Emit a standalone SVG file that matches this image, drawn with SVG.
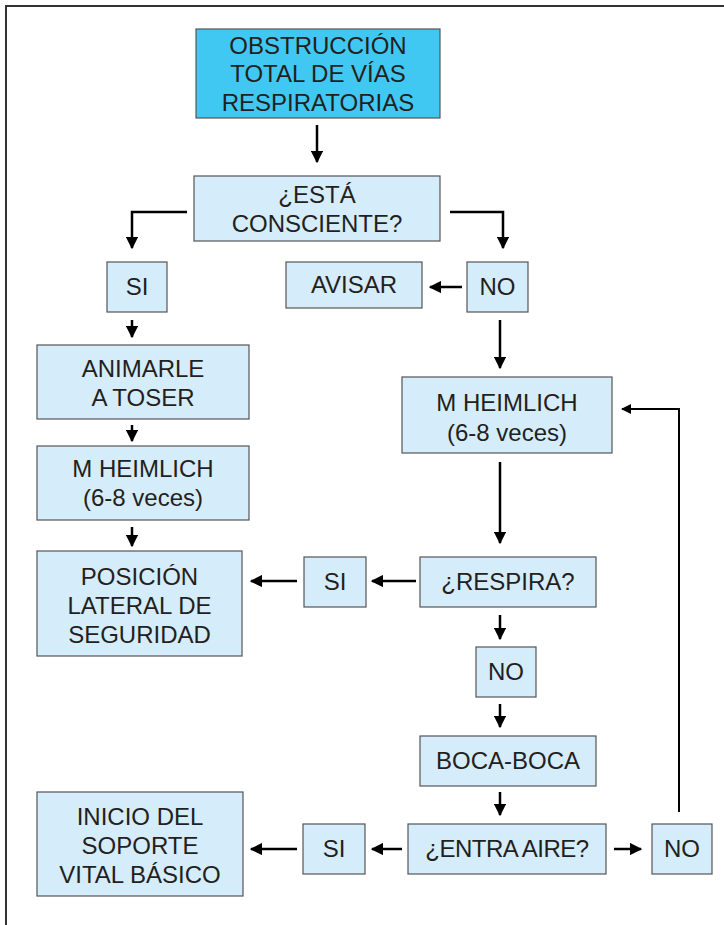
<svg xmlns="http://www.w3.org/2000/svg" width="724" height="925" viewBox="0 0 724 925">
  <style>
    .box { fill: #d5ecfa; stroke: #555; stroke-width: 1.2; }
    .main { fill: #40c8f2; stroke: #555; stroke-width: 1.2; }
    .lbl { font-family: "Liberation Sans", Arial, sans-serif; font-size: 24px; fill: #231f20; text-anchor: middle; }
    .conn { fill: none; stroke: #000; stroke-width: 2.5; marker-end: url(#ah); }
    .loop { fill: none; stroke: #000; stroke-width: 2; marker-end: url(#ah); }
  </style>
  <defs>
    <marker id="ah" viewBox="0 0 10 10" refX="9" refY="5" markerWidth="5" markerHeight="5" orient="auto" markerUnits="strokeWidth">
      <path d="M0,0 L10,5 L0,10 z" fill="#000"/>
    </marker>
  </defs>
  <rect width="724" height="925" fill="#fff"/>
  <!-- page frame -->
  <path d="M6,925 V6 H724" fill="none" stroke="#333" stroke-width="2"/>

  <g id="connectors">
    <path class="conn" d="M317,125 V162"/>
    <path class="conn" d="M187,212 H132 V248"/>
    <path class="conn" d="M450,212 H503 V248"/>
    <path class="conn" d="M462,287 H430"/>
    <path class="conn" d="M132,320 V337"/>
    <path class="conn" d="M132,425 V441"/>
    <path class="conn" d="M132,527 V546"/>
    <path class="conn" d="M500,320 V368"/>
    <path class="conn" d="M500,462 V543"/>
    <path class="conn" d="M416,581 H372"/>
    <path class="conn" d="M297,581 H251"/>
    <path class="conn" d="M500,615 V639"/>
    <path class="conn" d="M500,704 V727"/>
    <path class="conn" d="M500,792 V815"/>
    <path class="conn" d="M402,849 H372"/>
    <path class="conn" d="M297,849 H251"/>
    <path class="conn" d="M614,849 H641"/>
    <path class="loop" d="M679,812 V409 H622"/>
  </g>

  <g id="obstruccion">
    <rect class="main" x="196" y="29" width="244" height="89"/>
    <text class="lbl" x="318" y="54">OBSTRUCCIÓN</text>
    <text class="lbl" x="318" y="82">TOTAL DE VÍAS</text>
    <text class="lbl" x="318" y="111">RESPIRATORIAS</text>
  </g>
  <g id="consciente">
    <rect class="box" x="194" y="176" width="246" height="65"/>
    <text class="lbl" x="317" y="203">¿ESTÁ</text>
    <text class="lbl" x="317" y="232">CONSCIENTE?</text>
  </g>
  <g id="si1">
    <rect class="box" x="107" y="262" width="60" height="50"/>
    <text class="lbl" x="137" y="295">SI</text>
  </g>
  <g id="avisar">
    <rect class="box" x="286" y="262" width="136" height="46"/>
    <text class="lbl" x="354" y="293">AVISAR</text>
  </g>
  <g id="no1">
    <rect class="box" x="467" y="262" width="61" height="50"/>
    <text class="lbl" x="497.5" y="295">NO</text>
  </g>
  <g id="animarle">
    <rect class="box" x="37" y="345" width="212" height="74"/>
    <text class="lbl" x="143" y="377">ANIMARLE</text>
    <text class="lbl" x="143" y="406">A TOSER</text>
  </g>
  <g id="heimlich1">
    <rect class="box" x="37" y="446" width="212" height="74"/>
    <text class="lbl" x="143" y="477">M HEIMLICH</text>
    <text class="lbl" x="143" y="506">(6-8 veces)</text>
  </g>
  <g id="posicion">
    <rect class="box" x="37" y="551" width="205" height="105"/>
    <text class="lbl" x="139.5" y="585">POSICIÓN</text>
    <text class="lbl" x="139.5" y="614">LATERAL DE</text>
    <text class="lbl" x="139.5" y="643">SEGURIDAD</text>
  </g>
  <g id="heimlich2">
    <rect class="box" x="402" y="377" width="210" height="76"/>
    <text class="lbl" x="507" y="411">M HEIMLICH</text>
    <text class="lbl" x="507" y="441">(6-8 veces)</text>
  </g>
  <g id="respira">
    <rect class="box" x="420" y="557" width="176" height="50"/>
    <text class="lbl" x="508" y="590">¿RESPIRA?</text>
  </g>
  <g id="si2">
    <rect class="box" x="304" y="557" width="62" height="50"/>
    <text class="lbl" x="335" y="590">SI</text>
  </g>
  <g id="no2">
    <rect class="box" x="476" y="647" width="60" height="50"/>
    <text class="lbl" x="506" y="680">NO</text>
  </g>
  <g id="bocaboca">
    <rect class="box" x="420" y="736" width="176" height="50"/>
    <text class="lbl" x="508" y="769">BOCA-BOCA</text>
  </g>
  <g id="entraaire">
    <rect class="box" x="408" y="824" width="198" height="50"/>
    <text class="lbl" x="507" y="857" letter-spacing="-0.5">¿ENTRA AIRE?</text>
  </g>
  <g id="si3">
    <rect class="box" x="303" y="824" width="62" height="50"/>
    <text class="lbl" x="334" y="857">SI</text>
  </g>
  <g id="no3">
    <rect class="box" x="652" y="824" width="60" height="50"/>
    <text class="lbl" x="682" y="857">NO</text>
  </g>
  <g id="inicio">
    <rect class="box" x="37" y="792" width="206" height="104"/>
    <text class="lbl" x="140" y="825">INICIO DEL</text>
    <text class="lbl" x="140" y="854">SOPORTE</text>
    <text class="lbl" x="140" y="883">VITAL BÁSICO</text>
  </g>
</svg>
